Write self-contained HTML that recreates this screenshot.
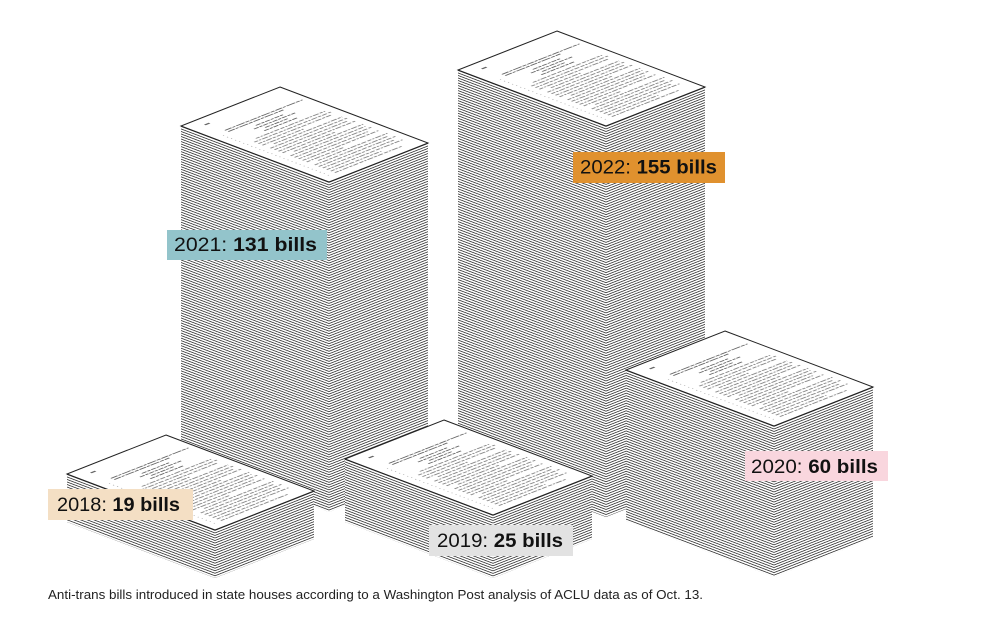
<!DOCTYPE html>
<html>
<head>
<meta charset="utf-8">
<style>
html,body{margin:0;padding:0;background:#fff;}
svg{display:block;}
text{font-family:"Liberation Sans",sans-serif;}
</style>
</head>
<body>
<svg width="1000" height="622" viewBox="0 0 1000 622" xmlns="http://www.w3.org/2000/svg">
<defs>
  <pattern id="a1" patternUnits="userSpaceOnUse" width="400" height="2.52" patternTransform="translate(329,182) skewY(20.73)"><rect x="0" y="0" width="400" height="0.85" fill="#333"/></pattern>
  <pattern id="b1" patternUnits="userSpaceOnUse" width="400" height="2.52" patternTransform="translate(329,182) skewY(-21.5)"><rect x="0" y="0" width="400" height="0.85" fill="#333"/></pattern>
  <pattern id="a2" patternUnits="userSpaceOnUse" width="400" height="2.52" patternTransform="translate(606,126) skewY(20.73)"><rect x="0" y="0" width="400" height="0.85" fill="#333"/></pattern>
  <pattern id="b2" patternUnits="userSpaceOnUse" width="400" height="2.52" patternTransform="translate(606,126) skewY(-21.5)"><rect x="0" y="0" width="400" height="0.85" fill="#333"/></pattern>
  <pattern id="a3" patternUnits="userSpaceOnUse" width="400" height="2.52" patternTransform="translate(215,530) skewY(20.73)"><rect x="0" y="0" width="400" height="0.85" fill="#333"/></pattern>
  <pattern id="b3" patternUnits="userSpaceOnUse" width="400" height="2.52" patternTransform="translate(215,530) skewY(-21.5)"><rect x="0" y="0" width="400" height="0.85" fill="#333"/></pattern>
  <pattern id="a4" patternUnits="userSpaceOnUse" width="400" height="2.52" patternTransform="translate(493,515) skewY(20.73)"><rect x="0" y="0" width="400" height="0.85" fill="#333"/></pattern>
  <pattern id="b4" patternUnits="userSpaceOnUse" width="400" height="2.52" patternTransform="translate(493,515) skewY(-21.5)"><rect x="0" y="0" width="400" height="0.85" fill="#333"/></pattern>
  <pattern id="a5" patternUnits="userSpaceOnUse" width="400" height="2.52" patternTransform="translate(774,426) skewY(20.73)"><rect x="0" y="0" width="400" height="0.85" fill="#333"/></pattern>
  <pattern id="b5" patternUnits="userSpaceOnUse" width="400" height="2.52" patternTransform="translate(774,426) skewY(-21.5)"><rect x="0" y="0" width="400" height="0.85" fill="#333"/></pattern>

  <g id="pg">
    <rect x="14" y="10.5" width="5" height="2" fill="#666"/>
    <path d="M17 30H100 M17 33.5H76" stroke="#666" stroke-width="1.3" stroke-dasharray="7 1 3 1 9 1 4 1" fill="none"/>
    <path d="M40 40H70 M34 44H78 M42 48H66 M37 52H72" stroke="#666" stroke-width="1.3" stroke-dasharray="5 1 3 1" fill="none"/>
    <path d="M9 36V150" stroke="#888" stroke-width="0.9" stroke-dasharray="0.9 3.4" fill="none"/>
    <path d="M22 58H96 M16 62.3H98 M16 66.6H95 M16 70.9H60 M24 75.2H97 M16 79.5H98 M16 83.8H94 M16 88.1H98 M16 92.4H72 M24 96.7H98 M16 101H96 M16 105.3H98 M16 109.6H90 M16 113.9H97 M16 118.2H55 M24 122.5H98 M16 126.8H95 M16 131.1H98 M16 135.4H92 M16 139.7H97 M16 144H70 M16 148.3H88" stroke="#8a8a8a" stroke-width="1.4" stroke-dasharray="4 1.2 2 1.2 6 1.2 3 1.2 5 1.6" fill="none"/>
  </g>
</defs>

<g>
  <polygon points="181,126 329,182 329,512 181,456" fill="#fff"/>
  <polygon points="181,126 329,182 329,512 181,456" fill="url(#a1)"/>
  <polygon points="329,182 428,143 428,473 329,512" fill="#fff"/>
  <polygon points="329,182 428,143 428,473 329,512" fill="url(#b1)"/>
  <polygon points="280,87 428,143 329,182 181,126" fill="#fff" stroke="#222" stroke-width="1"/>
  <use href="#pg" transform="matrix(0.934,-0.368,0.937,0.354,181,126)"/>
</g>

<g>
  <polygon points="458,70 606,126 606,517 458,461" fill="#fff"/>
  <polygon points="458,70 606,126 606,517 458,461" fill="url(#a2)"/>
  <polygon points="606,126 705,87 705,478 606,517" fill="#fff"/>
  <polygon points="606,126 705,87 705,478 606,517" fill="url(#b2)"/>
  <polygon points="557,31 705,87 606,126 458,70" fill="#fff" stroke="#222" stroke-width="1"/>
  <use href="#pg" transform="matrix(0.934,-0.368,0.937,0.354,458,70)"/>
</g>

<g>
  <polygon points="67,474 215,530 215,578 67,522" fill="#fff"/>
  <polygon points="67,474 215,530 215,578 67,522" fill="url(#a3)"/>
  <polygon points="215,530 314,491 314,539 215,578" fill="#fff"/>
  <polygon points="215,530 314,491 314,539 215,578" fill="url(#b3)"/>
  <polygon points="166,435 314,491 215,530 67,474" fill="#fff" stroke="#222" stroke-width="1"/>
  <use href="#pg" transform="matrix(0.934,-0.368,0.937,0.354,67,474)"/>
</g>

<g>
  <polygon points="345,459 493,515 493,578 345,522" fill="#fff"/>
  <polygon points="345,459 493,515 493,578 345,522" fill="url(#a4)"/>
  <polygon points="493,515 592,476 592,539 493,578" fill="#fff"/>
  <polygon points="493,515 592,476 592,539 493,578" fill="url(#b4)"/>
  <polygon points="444,420 592,476 493,515 345,459" fill="#fff" stroke="#222" stroke-width="1"/>
  <use href="#pg" transform="matrix(0.934,-0.368,0.937,0.354,345,459)"/>
</g>

<g>
  <polygon points="626,370 774,426 774,577 626,521" fill="#fff"/>
  <polygon points="626,370 774,426 774,577 626,521" fill="url(#a5)"/>
  <polygon points="774,426 873,387 873,538 774,577" fill="#fff"/>
  <polygon points="774,426 873,387 873,538 774,577" fill="url(#b5)"/>
  <polygon points="725,331 873,387 774,426 626,370" fill="#fff" stroke="#222" stroke-width="1"/>
  <use href="#pg" transform="matrix(0.934,-0.368,0.937,0.354,626,370)"/>
</g>

<rect x="167" y="230" width="160" height="30" fill="#93c4cb"/>
<text x="174" y="251" font-size="19.5" fill="#111" textLength="143" lengthAdjust="spacingAndGlyphs">2021: <tspan font-weight="bold">131 bills</tspan></text>

<rect x="573" y="152" width="152" height="31" fill="#e0912e"/>
<text x="580" y="173.5" font-size="19.5" fill="#111" textLength="137" lengthAdjust="spacingAndGlyphs">2022: <tspan font-weight="bold">155 bills</tspan></text>

<rect x="745" y="451" width="143" height="30" fill="#f9d6de"/>
<text x="751" y="473" font-size="19.5" fill="#111" textLength="127" lengthAdjust="spacingAndGlyphs">2020: <tspan font-weight="bold">60 bills</tspan></text>

<rect x="429" y="525" width="144" height="31" fill="#e2e2e2"/>
<text x="437" y="547" font-size="19.5" fill="#111" textLength="126" lengthAdjust="spacingAndGlyphs">2019: <tspan font-weight="bold">25 bills</tspan></text>

<rect x="48" y="489" width="145" height="31" fill="#f4dfc4"/>
<text x="57" y="511" font-size="19.5" fill="#111" textLength="123" lengthAdjust="spacingAndGlyphs">2018: <tspan font-weight="bold">19 bills</tspan></text>

<text x="48" y="599" font-size="13" fill="#222" textLength="655" lengthAdjust="spacingAndGlyphs">Anti-trans bills introduced in state houses according to a Washington Post analysis of ACLU data as of Oct. 13.</text>
</svg>
</body>
</html>
